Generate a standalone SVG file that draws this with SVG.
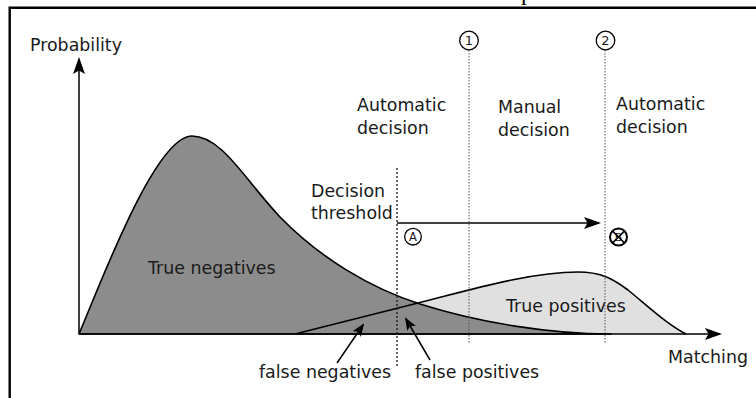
<svg xmlns="http://www.w3.org/2000/svg" width="756" height="398" viewBox="0 0 756 398">
<style>
text{font-family:"DejaVu Sans","Liberation Sans",sans-serif;font-size:17.4px;fill:#1a1a1a}
.ax{stroke:#000;stroke-width:1.5;fill:none}
.cv{stroke:#000;stroke-width:1.6;stroke-linejoin:round}
.thr{stroke:#222;stroke-width:1.4;stroke-dasharray:2 2;fill:none}
.lim{stroke:#555;stroke-width:1;stroke-dasharray:1.5 1.5;fill:none}
.circ{fill:#fff;stroke:#000;stroke-width:1.3}
.num{font-size:13px;text-anchor:middle}
</style>
<defs>
<marker id="ah" viewBox="0 0 17 12" refX="15" refY="6" markerWidth="17" markerHeight="12" markerUnits="userSpaceOnUse" orient="auto">
<path d="M0,0 L17,6 L0,12 L3.5,6 Z" fill="#000"/>
</marker>
<marker id="ahs" viewBox="0 0 13 10" refX="11" refY="5" markerWidth="13" markerHeight="10" markerUnits="userSpaceOnUse" orient="auto">
<path d="M0,0 L13,5 L0,10 L3,5 Z" fill="#000"/>
</marker>
</defs>
<rect width="756" height="398" fill="#fff"/>
<text x="521" y="0" style="font-family:'Liberation Serif',serif;font-size:24px;fill:#000">p</text>
<path d="M9.7,398 V7.8 H756" stroke="#000" stroke-width="2.4" fill="none"/>

<g id="true-positives-fill">
<path d="M295,334 L418,303 C470,290 530,272 578,272 C600,272 612,278 628,290 C650,308 668,325 686,334 Z" fill="#e0e0e0"/>
</g>
<g id="true-negatives">
<path d="M79,334 C100,285 155,136 192,136 C222,136 245,180 280,217 C320,258 370,288 420,304 C480,323 550,334 611,334 Z" class="cv" style="fill:#8c8c8c"/>
<text x="148" y="274">True negatives</text>
</g>
<g id="true-positives">
<path d="M295,334 L418,303 C470,290 530,272 578,272 C600,272 612,278 628,290 C650,308 668,325 686,334" class="cv" style="fill:none"/>
<text x="506" y="312">True positives</text>
</g>

<g id="connectors">
<line class="ax" x1="79" y1="334" x2="79" y2="59" marker-end="url(#ah)"/>
<line class="ax" x1="79" y1="334" x2="720" y2="334" marker-end="url(#ah)"/>
<line class="thr" x1="397" y1="168" x2="397" y2="367"/>
<line class="lim" x1="469" y1="50" x2="469" y2="344"/>
<line class="lim" x1="605" y1="50" x2="605" y2="344"/>
<line class="ax" x1="397" y1="223" x2="599" y2="223" marker-end="url(#ah)"/>
<line class="ax" x1="337" y1="363" x2="363" y2="325" marker-end="url(#ahs)"/>
<line class="ax" x1="430" y1="360" x2="406" y2="319" marker-end="url(#ahs)"/>
</g>

<g id="axis-labels">
<text x="30" y="51">Probability</text>
<text x="668" y="363">Matching</text>
</g>
<g id="zone-auto-left">
<text x="357" y="111">Automatic</text>
<text x="357" y="134">decision</text>
</g>
<g id="zone-manual">
<text x="498" y="113">Manual</text>
<text x="498" y="136">decision</text>
</g>
<g id="zone-auto-right">
<text x="616" y="110">Automatic</text>
<text x="616" y="133">decision</text>
</g>
<g id="threshold-label">
<text x="311" y="197">Decision</text>
<text x="311" y="219">threshold</text>
</g>
<g id="marker-1">
<circle class="circ" cx="469" cy="40.5" r="9.3"/>
<text class="num" x="469" y="45.2">1</text>
</g>
<g id="marker-2">
<circle class="circ" cx="605.5" cy="40.5" r="9.3"/>
<text class="num" x="605.5" y="45.2">2</text>
</g>
<g id="marker-A">
<circle class="circ" cx="413" cy="236.7" r="8.3"/>
<text class="num" x="413" y="241" style="font-size:11.5px">A</text>
</g>
<g id="marker-B">
<circle cx="618.5" cy="237" r="8.5" fill="#fff" stroke="#000" stroke-width="2"/>
<text class="num" x="618.5" y="241" style="font-size:11px">B</text>
<path d="M612.5,231 L624.5,243 M624.5,231 L612.5,243" stroke="#000" stroke-width="1.7"/>
</g>

<g id="false-labels">
<text x="259" y="378">false negatives</text>
<text x="415" y="378">false positives</text>
</g>
</svg>
